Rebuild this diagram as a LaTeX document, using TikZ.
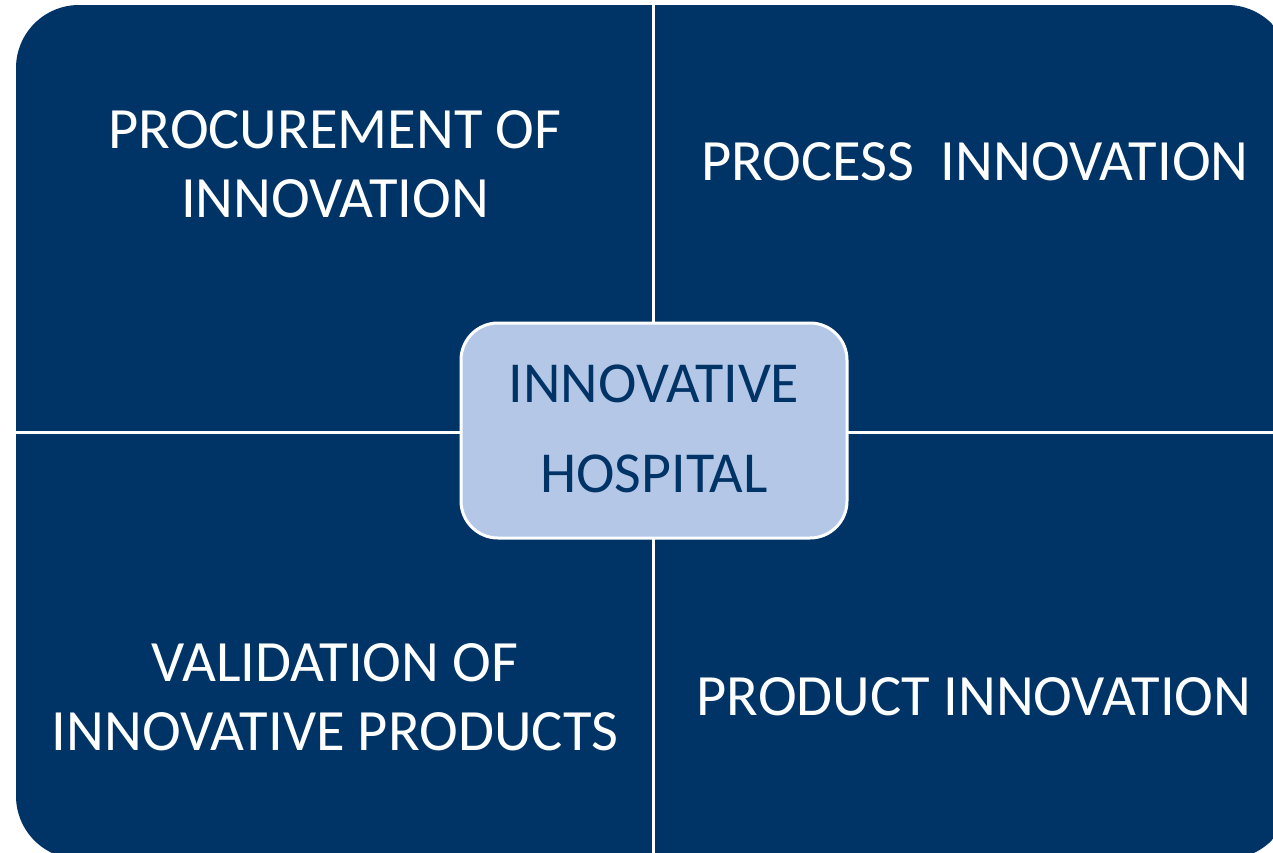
\documentclass[tikz,border=0pt]{standalone}
\usepackage{fontspec}
\setmainfont{Carlito}
\definecolor{navy}{RGB}{0,51,102}
\definecolor{paleblue}{RGB}{180,199,231}
\tikzset{
  quad/.style={fill=navy, draw=none},
  quadtext/.style={text=white, align=center, inner sep=0pt, font=\fontsize{58.5}{69}\selectfont},
  hubbox/.style={fill=paleblue, draw=white, line width=3pt, rounded corners=37pt,
    minimum width=386pt, minimum height=215pt, inner sep=0pt},
  hubtext/.style={text=navy, align=center, inner sep=0pt, font=\fontsize{58}{90}\selectfont}
}
\begin{document}
\begin{tikzpicture}[x=1pt,y=-1pt]
\useasboundingbox[fill=white] (0,0) rectangle (1273,853);
% quadrants, each with its outer corner rounded
\begin{scope}
\clip[rounded corners=63pt] (16,5) rectangle (1290,859);
\fill[quad] (16,5) rectangle (651.5,430.5);
\fill[quad] (654.5,5) rectangle (1290,430.5);
\fill[quad] (16,433.5) rectangle (651.5,859);
\fill[quad] (654.5,433.5) rectangle (1290,859);
\end{scope}
% quadrant labels
\node[quadtext] (tl) at (335,164.5) {PROCUREMENT OF\\INNOVATION};
\node[quadtext] (tr) at (975,161.5) {PROCESS\ \ INNOVATION};
\node[quadtext] (bl) at (335,697.5) {VALIDATION OF\\INNOVATIVE PRODUCTS};
\node[quadtext] (br) at (974,696.5) {PRODUCT INNOVATION};
% central box
\node[hubbox] (hub) at (654,430.5) {};
\node[hubtext] (hubt) at (654,429) {INNOVATIVE\\HOSPITAL};
\end{tikzpicture}
\end{document}
